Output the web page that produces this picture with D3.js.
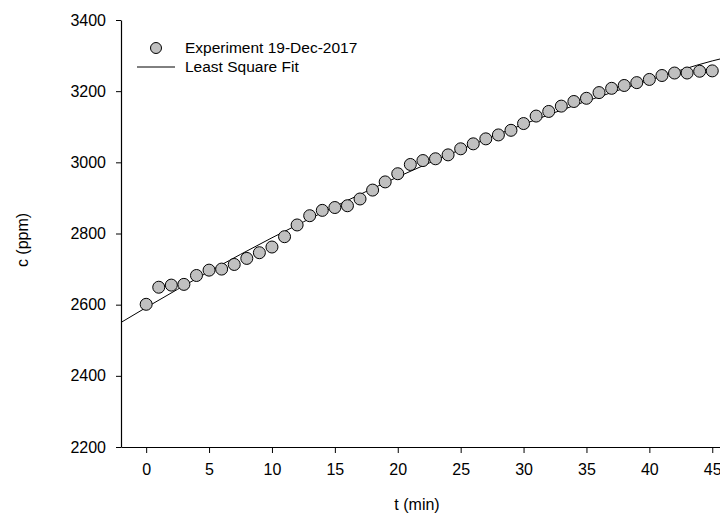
<!DOCTYPE html>
<html>
<head>
<meta charset="utf-8">
<script src="https://cdn.jsdelivr.net/npm/d3@7"></script>
<style>
  body { margin: 0; background: #fff; }
  svg { display: block; font-family: "Liberation Sans", Arial, sans-serif; }
</style>
</head>
<body>
<div id="chart"></div>
<script>
// measured points, one per minute
const minutes = d3.range(0, 46);
const ppm = [
  2601, 2649, 2655, 2657, 2682, 2697, 2700, 2713, 2730, 2746,
  2762, 2791, 2824, 2850, 2865, 2873, 2878, 2897, 2922, 2945,
  2968, 2994, 3005, 3010, 3021, 3038, 3052, 3066, 3077, 3090,
  3109, 3130, 3143, 3158, 3171, 3180, 3196, 3208, 3216, 3224,
  3233, 3244, 3251, 3251, 3256, 3257
];
// least square fit curve
const fitT = [-2, 0, 5, 10, 15, 20, 25, 30, 35, 40, 45, 48];
const fitC = [2550, 2592, 2693, 2788, 2876, 2959, 3036, 3107, 3172, 3231, 3285, 3310];

const xTicks = [0, 5, 10, 15, 20, 25, 30, 35, 40, 45];
const yTicks = [2200, 2400, 2600, 2800, 3000, 3200, 3400];
const legendLabels = ['Experiment 19-Dec-2017', 'Least Square Fit'];

const width = 720, height = 518;
const margin = {top: 20, right: -30, bottom: 71, left: 121};

const svg = d3.select('#chart')
  .append('svg')
    .attr('width', width)
    .attr('height', height);

const x = d3.scaleLinear()
  .domain([-2, 48])
  .range([margin.left, width - margin.right]);
const y = d3.scaleLinear()
  .domain([2200, 3400])
  .range([height - margin.bottom, margin.top]);

svg.append('clipPath').attr('id', 'plot-clip')
  .append('rect')
    .attr('x', x(-2)).attr('y', y(3400))
    .attr('width', x(48) - x(-2)).attr('height', y(2200) - y(3400));

// axes
const xAxis = svg.append('g')
  .attr('transform', `translate(0,${y(2200)})`)
  .call(d3.axisBottom(x).tickValues(xTicks).tickFormat(d3.format('d'))
    .tickSize(6).tickPadding(11).tickSizeOuter(0));
const yAxis = svg.append('g')
  .attr('transform', `translate(${x(-2)},0)`)
  .call(d3.axisLeft(y).tickValues(yTicks).tickFormat(d3.format('d'))
    .tickSize(5).tickPadding(10).tickSizeOuter(0));

[xAxis, yAxis].forEach(g => {
  g.select('.domain').attr('stroke', '#000').attr('stroke-width', 1.2);
  g.selectAll('.tick line').attr('stroke', '#000');
  g.selectAll('.tick text')
    .attr('fill', '#000')
    .style('font-size', '16px')
    .style('font-family', '"Liberation Sans", Arial, sans-serif');
});

// fit line
const line = d3.line()
  .x((d, i) => x(fitT[i]))
  .y(d => y(d))
  .curve(d3.curveMonotoneX);

svg.append('path')
  .datum(fitC)
  .attr('clip-path', 'url(#plot-clip)')
  .attr('fill', 'none')
  .attr('stroke', '#000')
  .attr('stroke-width', 1)
  .attr('d', line);

// data points
svg.append('g')
  .selectAll('circle')
  .data(ppm)
  .enter()
    .append('circle')
      .attr('cx', (d, i) => x(minutes[i]))
      .attr('cy', d => y(d))
      .attr('r', 6)
      .style('fill', '#c0c0c0')
      .style('stroke', '#000')
      .style('stroke-width', 1);

// legend
const legend = svg.append('g').style('font-size', '15.5px');
legend.append('circle')
  .attr('cx', 156).attr('cy', 48).attr('r', 5.5)
  .style('fill', '#c0c0c0').style('stroke', '#000');
legend.append('line')
  .attr('x1', 137).attr('x2', 175).attr('y1', 67).attr('y2', 67)
  .attr('stroke', '#000');
legend.selectAll('text')
  .data(legendLabels)
  .enter()
    .append('text')
      .attr('x', 185)
      .attr('y', (d, i) => 48 + i * 19)
      .attr('dy', '0.35em')
      .text(d => d);

// axis titles
svg.append('text')
  .attr('x', 417)
  .attr('y', 510)
  .attr('text-anchor', 'middle')
  .style('font-size', '16px')
  .text('t (min)');
svg.append('text')
  .attr('transform', 'translate(28,240) rotate(-90)')
  .attr('text-anchor', 'middle')
  .style('font-size', '16px')
  .text('c (ppm)');
</script>
</body>
</html>
